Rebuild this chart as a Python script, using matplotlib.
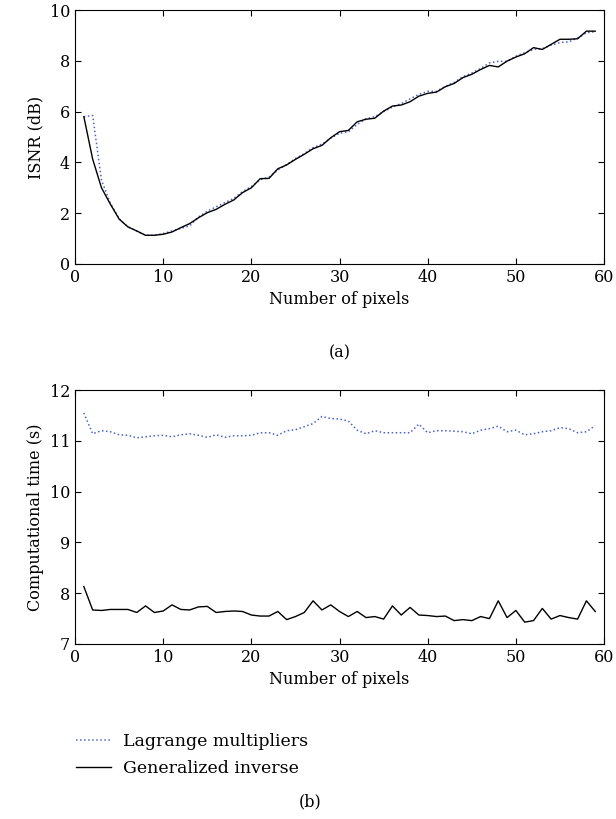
import matplotlib
matplotlib.use("Agg")
import matplotlib.pyplot as plt

plt.rcParams['font.family'] = ['DejaVu Serif']

pixels = list(range(1, 60))

isnr_lagrange = [5.8, 5.85, 3.3, 2.4, 1.78, 1.46, 1.3, 1.13, 1.13, 1.2,
                 1.3, 1.4, 1.5, 1.85, 2.08, 2.25, 2.42, 2.58, 2.85, 3.05,
                 3.32, 3.42, 3.7, 3.92, 4.15, 4.35, 4.58, 4.72, 4.95, 5.15,
                 5.2, 5.5, 5.72, 5.8, 6.0, 6.18, 6.32, 6.5, 6.68, 6.8,
                 6.8, 7.0, 7.15, 7.38, 7.52, 7.7, 7.92, 7.98, 7.98, 8.18,
                 8.32, 8.45, 8.48, 8.62, 8.72, 8.75, 8.9, 9.1, 9.15]
isnr_geninv = [5.8, 4.13, 3.0, 2.36, 1.77, 1.46, 1.3, 1.13, 1.13, 1.17,
               1.26, 1.43, 1.59, 1.82, 2.02, 2.15, 2.35, 2.52, 2.81, 3.0,
               3.36, 3.37, 3.75, 3.9, 4.12, 4.32, 4.54, 4.67, 4.97, 5.21,
               5.26, 5.6, 5.7, 5.74, 6.02, 6.22, 6.26, 6.39, 6.61, 6.72,
               6.77, 6.98, 7.11, 7.34, 7.47, 7.66, 7.82, 7.76, 7.99, 8.15,
               8.28, 8.52, 8.45, 8.65, 8.85, 8.85, 8.87, 9.17, 9.17]

time_lagrange = [11.55, 11.14, 11.2, 11.18, 11.12, 11.11, 11.06, 11.08, 11.1, 11.11,
                 11.08, 11.12, 11.14, 11.11, 11.07, 11.12, 11.07, 11.1, 11.1, 11.11,
                 11.16, 11.16, 11.11, 11.2, 11.22, 11.28, 11.34, 11.48, 11.44, 11.43,
                 11.39, 11.21, 11.14, 11.2, 11.16, 11.16, 11.16, 11.16, 11.33, 11.16,
                 11.2, 11.2, 11.19, 11.18, 11.14, 11.21, 11.24, 11.29, 11.18, 11.21,
                 11.12, 11.14, 11.18, 11.2, 11.26, 11.24, 11.16, 11.18, 11.3]
time_geninv = [8.13, 7.67, 7.66, 7.68, 7.68, 7.68, 7.62, 7.75, 7.62, 7.65,
               7.77, 7.68, 7.67, 7.73, 7.74, 7.62, 7.64, 7.65, 7.64, 7.57,
               7.55, 7.55, 7.64, 7.48, 7.54, 7.62, 7.85, 7.67, 7.77, 7.64,
               7.54, 7.64, 7.52, 7.54, 7.49, 7.75, 7.57, 7.72, 7.57, 7.56,
               7.54, 7.55, 7.46, 7.48, 7.46, 7.54, 7.50, 7.85, 7.52, 7.66,
               7.43, 7.46, 7.70, 7.49, 7.56, 7.52, 7.49, 7.85, 7.64]

blue = '#4a64c8'
fs = 11.5

fig = plt.figure(figsize=(6.16, 8.19), dpi=100)
ax1 = fig.add_axes([0.1218, 0.6777, 0.8588, 0.310])
ax2 = fig.add_axes([0.1218, 0.2137, 0.8588, 0.310])

ax1.plot(pixels, isnr_lagrange, ':', color=blue, lw=1.1)
ax1.plot(pixels, isnr_geninv, '-', color='black', lw=1.0)
ax1.set_xlim(0, 60)
ax1.set_ylim(0, 10)
ax1.set_yticks([0, 2, 4, 6, 8, 10])
ax1.set_ylabel('ISNR (dB)', fontsize=fs)
ax1.set_xlabel('Number of pixels', fontsize=fs)

l1, = ax2.plot(pixels, time_lagrange, ':', color=blue, lw=1.1, label='Lagrange multipliers')
l2, = ax2.plot(pixels, time_geninv, '-', color='black', lw=1.0, label='Generalized inverse')
ax2.set_xlim(0, 60)
ax2.set_ylim(7, 12)
ax2.set_ylabel('Computational time (s)', fontsize=fs)
ax2.set_xlabel('Number of pixels', fontsize=fs)

for ax in (ax1, ax2):
    ax.set_xticks([0, 10, 20, 30, 40, 50, 60])
    ax.tick_params(direction='in', top=True, right=True, labelsize=fs, length=4)

fig.legend(handles=[l1, l2], loc='upper left', bbox_to_anchor=(0.098, 1 - 717 / 819),
           frameon=False, fontsize=12.5, handlelength=2.0, handletextpad=0.7,
           labelspacing=0.6)

fig.text(0.552, 1 - 353 / 819, '(a)', ha='center', va='center', fontsize=fs)
fig.text(0.503, 1 - 802 / 819, '(b)', ha='center', va='center', fontsize=fs)

fig.savefig('out.png', dpi=100)
